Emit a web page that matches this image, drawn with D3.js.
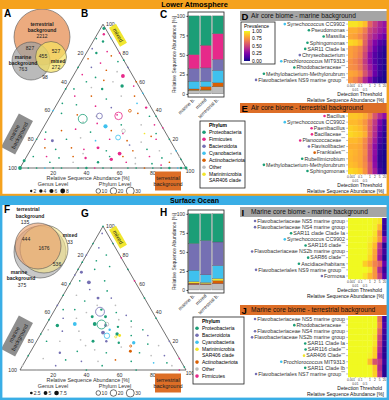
<!DOCTYPE html>
<html>
<head>
<meta charset="utf-8">
<script src="https://cdn.jsdelivr.net/npm/d3@7"></script>
<style>
  body { margin: 0; background: #fff; }
  svg { display: block; font-family: "Liberation Sans", Arial, sans-serif; }
</style>
</head>
<body>
<div id="chart"></div>
<script>
// ---------- data ----------
const groups = ['marine b.', 'mixed', 'terrestrial b.'];
const thresholds = ['0.001', '0.01', '0.1', '0.5', '1', '2', '5', '20'];

const phylumNames = {
  P: 'Proteobacteria', F: 'Firmicutes', B: 'Bacteroidota', C: 'Cyanobacteria',
  A: 'Actinobacteriota', O: 'Other', M: 'Marinimicrobia (SAR406 clade)',
};
const phylumColors = {
  P: '#1b9e77', F: '#e7298a', B: '#7570b3', C: '#3fc1ee',
  A: '#d95f02', O: '#bdbdbd', M: '#f2e52a',
};

// venn counts: [terrestrial only, marine only, mixed only, T+M, T+X, M+X, all three]
const airVenn = [2212, 763, 272, 827, 527, 98, 455];
const oceanVenn = [135, 375, 33, 444, 0, 536, 1676];

// phylum relative abundance [%] for [marine b., mixed, terrestrial b.]
const airAbundance = {
  O: [4.5, 4.7, 9], M: [0.3, 0.3, 0.2], A: [1.5, 4.3, 5], C: [10, 7, 16],
  B: [16, 17, 14], F: [18, 29, 33], P: [49.7, 37.7, 22.8],
};
const oceanAbundance = {
  O: [7, 7, 8], F: [0.5, 0.3, 0.5], A: [1.5, 1, 3.5], M: [2, 1.5, 3],
  C: [15, 10, 17], B: [35, 45, 31], P: [39, 35.2, 37],
};
const airLegend = ['P', 'F', 'B', 'C', 'A', 'O', 'M'];
const oceanLegend = ['P', 'B', 'C', 'M', 'A', 'O', 'F'];

// genus level ternary points: [terrestrial %, mixed %, phylum, abundance]
const airGenus = [
  [2, 97, 'P', 3], [4, 93, 'F', 2], [1, 90, 'P', 1], [6, 88, 'P', 2], [2, 83, 'B', 1], [6, 80, 'P', 2],
  [12, 81, 'F', 1], [16, 78, 'A', 1], [3, 76, 'A', 1], [12, 73, 'F', 1], [22, 74, 'P', 1], [8, 70, 'B', 1],
  [18, 68, 'A', 1], [25, 67, 'O', 1], [30, 64, 'F', 5], [5, 65, 'F', 1], [14, 63, 'P', 1], [20, 61, 'A', 1],
  [10, 60, 'P', 1], [26, 60, 'O', 1], [10, 90, 'C', 1], [20, 80, 'F', 1], [25, 75, 'P', 1], [30, 70, 'B', 1],
  [5, 55, 'P', 1], [15, 56, 'O', 1], [22, 55, 'P', 2], [33, 57, 'P', 4], [40, 57, 'F', 1], [8, 50, 'F', 1],
  [18, 50, 'A', 1], [28, 48, 'P', 1], [36, 50, 'O', 1], [44, 50, 'A', 1], [3, 45, 'P', 1], [12, 44, 'P', 1],
  [24, 43, 'F', 1], [34, 42, 'B', 1], [48, 45, 'C', 1], [55, 42, 'F', 2], [6, 38, 'P', 1], [16, 37, 'A', 1],
  [28, 36, 'O', 1], [40, 37, 'F', 1], [52, 38, 'A', 1], [60, 36, 'P', 1], [37, 29, 'C', 6], [22, 32, 'O', 1],
  [31, 31, 'F', 1], [46, 30, 'P', 1], [58, 30, 'O', 1], [66, 30, 'F', 1], [3, 25, 'P', 1], [12, 26, 'A', 1],
  [20, 27, 'F', 1], [30, 25, 'P', 1], [42, 26, 'A', 1], [50, 24, 'F', 1], [63, 24, 'M', 1], [70, 24, 'P', 1],
  [5, 20, 'F', 1], [10, 19, 'B', 3], [18, 20, 'P', 1], [26, 21, 'O', 1], [36, 19, 'C', 1], [44, 20, 'F', 1],
  [55, 19, 'A', 1], [64, 18, 'O', 1], [72, 20, 'F', 1], [8, 14, 'A', 1], [15, 13, 'P', 1], [24, 14, 'A', 1],
  [32, 13, 'F', 1], [40, 14, 'F', 3], [46, 12, 'P', 1], [55, 10, 'F', 5], [62, 12, 'A', 1], [70, 13, 'P', 1],
  [78, 12, 'O', 1], [4, 8, 'P', 1], [12, 8, 'F', 1], [20, 7, 'P', 1], [28, 8, 'A', 1], [36, 7, 'F', 2],
  [52, 6, 'F', 4], [50, 8, 'P', 1], [58, 8, 'A', 1], [66, 7, 'O', 1], [74, 8, 'F', 1], [82, 7, 'P', 1],
  [86, 10, 'O', 1], [16, 4, 'P', 1], [30, 4, 'O', 1], [45, 4, 'P', 2], [62, 4, 'F', 1], [78, 3, 'P', 1],
  [88, 4, 'A', 1], [0, 0, 'P', 5], [0, 5, 'P', 3], [5, 0, 'P', 1], [10, 0, 'P', 1], [15, 0, 'C', 1],
  [20, 0, 'P', 1], [25, 0, 'P', 1], [30, 0, 'O', 1], [35, 0, 'P', 1], [40, 0, 'P', 2], [45, 0, 'F', 1],
  [50, 0, 'P', 1], [55, 0, 'P', 1], [60, 0, 'O', 1], [65, 0, 'P', 1], [70, 0, 'P', 1], [75, 0, 'A', 1],
  [80, 0, 'P', 1], [85, 0, 'P', 1], [90, 0, 'P', 2], [95, 0, 'C', 1], [97, 0, 'P', 2], [100, 0, 'P', 3],
  [94, 6, 'P', 1], [88, 12, 'C', 1], [80, 20, 'P', 1], [72, 28, 'F', 1], [64, 36, 'P', 1], [56, 44, 'O', 1],
  [48, 52, 'C', 1], [40, 60, 'A', 1], [0, 20, 'P', 1], [0, 40, 'C', 1], [0, 55, 'P', 1], [0, 70, 'P', 1],
  [84, 2, 'F', 1], [68, 3, 'O', 1], [92, 8, 'O', 1], [33, 10, 'O', 1], [58, 16, 'B', 1], [68, 22, 'A', 1],
];
const oceanGenus = [
  [0, 100, 'P', 1], [2, 95, 'B', 1], [0, 88, 'P', 1], [0, 80, 'B', 1], [0, 75, 'P', 1], [0, 70, 'P', 1],
  [0, 66, 'B', 1], [0, 60, 'P', 1], [0, 52, 'P', 1], [0, 45, 'B', 1], [0, 35, 'P', 1], [0, 25, 'P', 1],
  [0, 10, 'P', 1], [0, 3, 'O', 1], [12, 88, 'P', 1], [22, 78, 'F', 1], [30, 70, 'P', 1], [38, 62, 'F', 1],
  [50, 50, 'P', 1], [64, 36, 'P', 1], [80, 20, 'B', 1], [92, 8, 'F', 1], [98, 2, 'P', 1], [10, 0, 'O', 1],
  [40, 0, 'P', 1], [70, 0, 'P', 1], [96, 0, 'F', 1], [5, 85, 'B', 1], [12, 80, 'P', 1], [8, 76, 'P', 1],
  [18, 72, 'P', 1], [3, 68, 'B', 3], [11, 61, 'B', 5], [5, 62, 'P', 1], [20, 62, 'P', 1], [14, 56, 'B', 1],
  [25, 55, 'P', 1], [8, 52, 'O', 1], [30, 50, 'B', 1], [22, 50, 'B', 3], [15, 48, 'P', 1], [35, 45, 'O', 1],
  [5, 42, 'P', 1], [12, 42, 'P', 1], [20, 40, 'O', 1], [28, 42, 'P', 2], [38, 40, 'P', 1], [45, 38, 'B', 1],
  [8, 36, 'B', 1], [16, 36, 'O', 1], [25, 37, 'P', 3], [33, 37, 'P', 3], [42, 35, 'O', 1], [50, 34, 'P', 1],
  [7, 31, 'P', 4], [17, 32, 'C', 5], [29, 32, 'P', 5], [36, 31, 'B', 3], [44, 30, 'P', 2], [52, 30, 'O', 1],
  [60, 28, 'P', 1], [3, 28, 'O', 1], [12, 27, 'B', 1], [22, 27, 'O', 1], [37, 26, 'B', 5], [46, 25, 'P', 4],
  [48, 24, 'M', 3], [55, 24, 'P', 1], [65, 24, 'B', 1], [6, 20, 'P', 1], [14, 20, 'O', 1], [26, 21, 'O', 1],
  [34, 20, 'P', 3], [42, 20, 'B', 2], [50, 19, 'P', 2], [59, 19, 'C', 4], [68, 18, 'P', 1], [75, 17, 'O', 1],
  [18, 12, 'B', 2], [28, 13, 'P', 1], [38, 14, 'O', 1], [46, 12, 'P', 1], [60, 13, 'A', 3], [66, 12, 'P', 1],
  [74, 10, 'O', 1], [82, 10, 'B', 1], [10, 8, 'O', 1], [24, 7, 'P', 1], [34, 6, 'B', 1], [44, 6, 'O', 1],
  [54, 7, 'A', 1], [64, 6, 'P', 1], [78, 5, 'C', 1], [86, 5, 'P', 1], [20, 3, 'B', 1], [48, 3, 'P', 1],
  [90, 3, 'O', 1], [31, 17, 'O', 1], [40, 28, 'C', 2], [53, 16, 'O', 1], [24, 45, 'O', 1], [10, 70, 'P', 1],
];

// core biome heatmaps: taxa, phylum and prevalence per detection threshold
const airMarineTaxa = ['Synechococcus CC9902', 'Pseudomonas', 'Massilia', 'Sphingomonas', 'SAR11 Clade Ia',
  'Chryseobacterium', 'Prochlorococcus MIT9313', 'Rhodobacteraceae***', 'Methylobacterium-Methylorubrum',
  'Flavobacteriales NS9 marine group***'];
const airMarinePhyla = ['C', 'P', 'P', 'P', 'P', 'B', 'C', 'P', 'P', 'B'];
const airMarinePrev = [
  [0.95, 0.95, 0.92, 0.86, 0.6, 0.48, 0.38, 0.32],
  [0.82, 0.82, 0.78, 0.68, 0.5, 0.42, 0.35, 0.3],
  [0.8, 0.78, 0.72, 0.62, 0.45, 0.36, 0.28, 0.2],
  [0.92, 0.9, 0.84, 0.6, 0.4, 0.26, 0.15, 0.1],
  [0.78, 0.75, 0.7, 0.55, 0.36, 0.2, 0.1, 0.05],
  [0.78, 0.74, 0.68, 0.5, 0.3, 0.15, 0.08, 0.04],
  [0.74, 0.7, 0.64, 0.46, 0.3, 0.15, 0.08, 0.04],
  [0.74, 0.72, 0.65, 0.5, 0.35, 0.2, 0.08, 0.03],
  [0.8, 0.78, 0.72, 0.55, 0.4, 0.2, 0.08, 0.03],
  [0.75, 0.7, 0.6, 0.4, 0.25, 0.1, 0.04, 0.02],
];
const airTerrTaxa = ['Bacillus', 'Synechococcus CC9902', 'Paenibacillus', 'Bacillaceae***', 'Planococcaceae***',
  'Flavisolibacter', 'Frankiales***', 'Rubellimicrobium', 'Methylobacterium-Methylorubrum', 'Sphingomonas'];
const airTerrPhyla = ['F', 'C', 'F', 'F', 'F', 'B', 'A', 'P', 'P', 'P'];
const airTerrPrev = [
  [0.88, 0.88, 0.86, 0.82, 0.72, 0.55, 0.4, 0.3],
  [0.85, 0.85, 0.82, 0.75, 0.62, 0.45, 0.25, 0.1],
  [0.9, 0.88, 0.85, 0.78, 0.6, 0.42, 0.2, 0.08],
  [0.92, 0.9, 0.88, 0.82, 0.6, 0.4, 0.15, 0.05],
  [0.85, 0.85, 0.82, 0.72, 0.55, 0.35, 0.12, 0.05],
  [0.82, 0.82, 0.8, 0.7, 0.5, 0.3, 0.08, 0.03],
  [0.85, 0.83, 0.8, 0.72, 0.5, 0.3, 0.06, 0.02],
  [0.84, 0.82, 0.8, 0.7, 0.5, 0.28, 0.05, 0.02],
  [0.86, 0.84, 0.8, 0.72, 0.55, 0.3, 0.06, 0.02],
  [0.92, 0.9, 0.86, 0.75, 0.55, 0.35, 0.1, 0.03],
];
const oceanMarineTaxa = ['Flavobacteriaceae NS5 marine group', 'Flavobacteriaceae NS4 marine group',
  'SAR11 clade Clade Ia', 'Synechococcus CC9902', 'SAR116 clade***', 'Flavobacteriaceae NS2b marine group',
  'SAR86 clade***', 'Ascidiaceihabitans', 'Flavobacteriales NS9 marine group***', 'Formosa'];
const oceanMarinePhyla = ['B', 'B', 'P', 'C', 'P', 'B', 'P', 'P', 'B', 'B'];
const oceanMarinePrev = [
  [1, 1, 1, 1, 1, 0.98, 0.95, 0.1],
  [1, 1, 1, 1, 1, 0.98, 0.85, 0.08],
  [1, 1, 1, 1, 1, 0.95, 0.7, 0.08],
  [1, 1, 1, 1, 0.98, 0.92, 0.75, 0.3],
  [1, 1, 1, 1, 0.95, 0.85, 0.45, 0.05],
  [1, 1, 1, 1, 0.95, 0.8, 0.4, 0.1],
  [1, 1, 1, 1, 0.92, 0.78, 0.35, 0.05],
  [1, 1, 1, 0.9, 0.82, 0.7, 0.6, 0.2],
  [1, 1, 1, 1, 0.95, 0.75, 0.4, 0.08],
  [1, 1, 1, 0.95, 0.85, 0.75, 0.5, 0.15],
];
const oceanTerrTaxa = ['Flavobacteriaceae NS5 marine group', 'Rhodobacteraceae***',
  'Flavobacteriaceae NS4 marine group', 'Flavobacteriaceae NS2b marine group', 'SAR11 Clade Ia',
  'SAR116 clade***', 'SAR406 Clade***', 'Prochlorococcus MIT9313', 'SAR11 Clade Ib',
  'Flavobacteriales NS7 marine group***'];
const oceanTerrPhyla = ['B', 'P', 'B', 'B', 'P', 'P', 'M', 'C', 'P', 'B'];
const oceanTerrPrev = [
  [1, 1, 1, 1, 1, 1, 0.65, 0.1],
  [1, 1, 1, 1, 1, 1, 0.7, 0.15],
  [1, 1, 1, 1, 1, 0.98, 0.6, 0.1],
  [1, 1, 1, 1, 1, 0.95, 0.5, 0.08],
  [1, 1, 1, 1, 1, 0.95, 0.45, 0.08],
  [1, 1, 1, 1, 1, 0.9, 0.4, 0.05],
  [1, 1, 1, 1, 0.98, 0.9, 0.35, 0.05],
  [1, 1, 1, 1, 0.85, 0.55, 0.45, 0.1],
  [1, 1, 1, 1, 1, 0.88, 0.4, 0.05],
  [1, 1, 1, 1, 1, 0.9, 0.45, 0.05],
];

// ---------- setup ----------
const W = 389, H = 400;
const orange = '#f5a21e', darkOrange = '#dd6e27', blue = '#3aaee6', headGray = '#a5a5a5';

const svg = d3.select('#chart').append('svg')
  .attr('width', W).attr('height', H).attr('viewBox', [0, 0, W, H]);

const letter = (x, y, t) => svg.append('text')
  .attr('x', x).attr('y', y).attr('font-size', 10).attr('font-weight', 700).text(t);

// ---------- venn ----------
function drawVenn(circles, labels, opacity) {
  const g = svg.append('g');
  g.selectAll('circle').data(circles).join('circle')
    .attr('cx', (d) => d.cx).attr('cy', (d) => d.cy).attr('r', (d) => d.r)
    .attr('fill', (d) => d.fill).attr('fill-opacity', opacity)
    .attr('stroke', '#555').attr('stroke-width', 0.6);
  g.selectAll('text').data(labels).join('text')
    .attr('x', (d) => d.x).attr('y', (d) => d.y)
    .attr('text-anchor', 'middle').attr('font-size', 5)
    .attr('font-weight', (d) => (d.bold ? 700 : 400))
    .attr('fill', '#222')
    .text((d) => d.t);
}

// ---------- ternary ----------
function drawTernary(cfg) {
  const g = svg.append('g').attr('font-size', 5.2).attr('fill', '#333');
  const [lx, ly] = cfg.origin;
  const side = cfg.side;
  const h = side * Math.sqrt(3) / 2;
  const sx = d3.scaleLinear().domain([0, 100]).range([0, side]);
  const sy = d3.scaleLinear().domain([0, 100]).range([0, h]);
  const pos = (t, x) => [lx + sx(t) + sx(x) / 2, ly - sy(x)];
  const rGenus = d3.scaleSqrt().domain([0, 8]).range([0, 2.4]);
  const rPhylum = d3.scaleSqrt().domain([0, 30]).range([0, 4]);

  g.append('path')
    .attr('d', `M${pos(0, 0)}L${pos(100, 0)}L${pos(0, 100)}Z`)
    .attr('fill', 'none').attr('stroke', '#333').attr('stroke-width', 0.7);

  const ticks = [20, 40, 60, 80, 100];
  g.append('g').selectAll('text').data(ticks).join('text')
    .attr('x', (d) => pos(0, 100 - d)[0] - 3).attr('y', (d) => pos(0, 100 - d)[1] + 2)
    .attr('text-anchor', 'end').text((d) => d);
  g.append('g').selectAll('text').data(ticks).join('text')
    .attr('x', (d) => pos(100 - d, d)[0] + 3).attr('y', (d) => pos(100 - d, d)[1] + 2)
    .text((d) => d);
  g.append('g').selectAll('text').data(ticks).join('text')
    .attr('x', (d) => pos(d, 0)[0] + (d === 100 ? 4 : 0))
    .attr('y', (d) => ly + (d === 100 ? 5 : 6.6))
    .attr('text-anchor', 'middle').text((d) => d);

  g.append('g').selectAll('circle').data(cfg.genus).join('circle')
    .attr('cx', (d) => pos(d[0], d[1])[0]).attr('cy', (d) => pos(d[0], d[1])[1])
    .attr('r', (d) => rGenus(d[3]))
    .attr('fill', (d) => phylumColors[d[2]]);

  const phyla = Object.entries(cfg.abundance).map(([k, v]) => {
    const sum = d3.sum(v);
    return { k, t: (v[2] / sum) * 100, x: (v[1] / sum) * 100, size: d3.mean(v) };
  }).filter((d) => d.size >= 2);
  g.append('g').selectAll('circle').data(phyla).join('circle')
    .attr('cx', (d) => pos(d.t, d.x)[0]).attr('cy', (d) => pos(d.t, d.x)[1])
    .attr('r', (d) => rPhylum(d.size))
    .attr('fill', 'none').attr('stroke-width', 0.8)
    .attr('stroke', (d) => phylumColors[d.k]);

  // corner labels
  const box = (cx, cy, angle, w, bh, fill, lines) => {
    const b = g.append('g').attr('transform', `translate(${cx},${cy}) rotate(${angle})`);
    b.append('rect').attr('x', -w / 2).attr('y', -bh / 2).attr('width', w).attr('height', bh)
      .attr('fill', fill);
    lines.forEach((t, i) => b.append('text')
      .attr('y', (i - (lines.length - 1) / 2) * 6.2 + 1.9)
      .attr('text-anchor', 'middle').attr('font-size', 5.6).attr('fill', '#222').text(t));
  };
  const apex = pos(0, 100);
  box(apex[0] + 15, apex[1] + 11, 60, 22, 8, '#f1e62f', ['mixed']);
  box(lx - 3, ly - 34, -62, 38, 16, '#8e8e8e', ['marine', 'background']);
  box(lx + 148, ly + 13, 0, 26, 19, darkOrange, ['terrestrial', 'background']);

  // size legend
  g.append('text').attr('x', lx + 68).attr('y', ly + 12.4).attr('text-anchor', 'middle')
    .attr('font-size', 5.4).text('Relative Sequence Abundance [%]');
  g.append('text').attr('x', lx + 33).attr('y', ly + 18.2).attr('text-anchor', 'middle')
    .attr('font-size', 5.4).text('Genus Level');
  g.append('text').attr('x', lx + 95).attr('y', ly + 18.2).attr('text-anchor', 'middle')
    .attr('font-size', 5.4).text('Phylum Level');

  const legendRow = (values, x0, rScale, hollow) => {
    let x = x0;
    values.forEach((v) => {
      const r = rScale(v);
      g.append('circle').attr('cx', x + r).attr('cy', ly + 23)
        .attr('r', r).attr('fill', hollow ? 'none' : '#111')
        .attr('stroke', hollow ? '#111' : 'none').attr('stroke-width', 0.6);
      const t = g.append('text').attr('x', x + 2 * r + 1).attr('y', ly + 25)
        .attr('font-size', 5).text(v);
      x += 2 * r + 1 + t.node().getComputedTextLength() + 3;
    });
  };
  legendRow(cfg.genusSizes, lx + 10, rGenus, false);
  legendRow(cfg.phylumSizes, lx + 76, rPhylum, true);
}

// ---------- stacked bars ----------
function drawBars(cfg) {
  const g = svg.append('g').attr('font-size', 5);
  const { x0, x1, y0, y1 } = cfg.frame;
  const keys = Object.keys(cfg.abundance);
  const x = d3.scaleBand().domain(groups).range([x0, x1]).paddingInner(0.1).paddingOuter(0.06);
  const y = d3.scaleLinear().domain([-4, 105]).range([y1, y0]);

  const rows = groups.map((grp, i) => {
    const row = { group: grp };
    keys.forEach((k) => { row[k] = cfg.abundance[k][i]; });
    return row;
  });
  const series = d3.stack().keys(keys)(rows);

  g.append('g').selectAll('g').data(series).join('g')
    .attr('fill', (s) => phylumColors[s.key])
    .selectAll('rect').data((s) => s).join('rect')
    .attr('x', (d) => x(d.data.group)).attr('width', x.bandwidth())
    .attr('y', (d) => y(d[1])).attr('height', (d) => y(d[0]) - y(d[1]))
    .attr('stroke', '#444').attr('stroke-width', 0.25);

  g.append('rect').attr('x', x0).attr('y', y0).attr('width', x1 - x0).attr('height', y1 - y0)
    .attr('fill', 'none').attr('stroke', '#222').attr('stroke-width', 0.8);

  const axis = g.append('g').attr('transform', `translate(${x0},0)`)
    .call(d3.axisLeft(y).tickValues([0, 25, 50, 75, 100]).tickSize(1.5).tickPadding(1.5));
  axis.select('.domain').remove();
  axis.selectAll('text').attr('font-size', 5).attr('fill', '#333');
  axis.selectAll('line').attr('stroke', '#333');

  g.append('text')
    .attr('transform', `translate(${x0 - 12},${(y0 + y1) / 2}) rotate(-90)`)
    .attr('text-anchor', 'middle').attr('font-size', 5).attr('fill', '#333')
    .text('Relative Sequence Abundance [%]');

  g.append('g').selectAll('text').data(groups).join('text')
    .attr('transform', (d) => `translate(${x(d) + x.bandwidth() / 2 + 1},${y1 + 3}) rotate(-45)`)
    .attr('text-anchor', 'end').attr('font-size', 5).attr('fill', '#333').text((d) => d);

  // phylum legend
  const lg = g.append('g').attr('transform', `translate(${cfg.legend.x},${cfg.legend.y})`);
  lg.append('rect').attr('width', cfg.legend.w).attr('height', cfg.legend.h)
    .attr('fill', '#fff').attr('stroke', '#222').attr('stroke-width', 0.8);
  lg.append('text').attr('x', 9).attr('y', 6).attr('font-weight', 700).attr('font-size', 5)
    .text('Phylum');
  let yy = 13;
  cfg.legendOrder.forEach((k) => {
    lg.append('circle').attr('cx', 4).attr('cy', yy - 1.7).attr('r', 1.8).attr('fill', phylumColors[k]);
    if (k === 'M') {
      lg.append('text').attr('x', 9).attr('y', yy).attr('font-size', 5).text('Marinimicrobia');
      yy += 5.8;
      lg.append('text').attr('x', 9).attr('y', yy).attr('font-size', 5).text('SAR406 clade');
    } else {
      lg.append('text').attr('x', 9).attr('y', yy).attr('font-size', 5).text(phylumNames[k]);
    }
    yy += 7;
  });
}

// ---------- heatmaps ----------
function drawHeatmap(cfg) {
  const g = svg.append('g');
  g.append('rect').attr('x', 240).attr('y', cfg.headerY).attr('width', 148).attr('height', 10)
    .attr('fill', cfg.headerColor);
  g.append('text').attr('x', 241.5).attr('y', cfg.headerY + 8.5).attr('font-size', 9.5)
    .attr('font-weight', 700).text(cfg.letter);
  g.append('text').attr('x', 251).attr('y', cfg.headerY + 7.4).attr('font-size', 6.6)
    .attr('fill', '#111').text(cfg.title);

  const { x0, x1, y0, y1 } = cfg.box;
  const x = d3.scaleBand().domain(thresholds).range([x0, x1]);
  const y = d3.scaleBand().domain(d3.range(cfg.taxa.length)).range([y0, y1]);
  const color = (v) => d3.interpolatePlasma(v);

  g.append('g').selectAll('g').data(cfg.prev).join('g')
    .selectAll('rect').data((row, i) => row.map((v, j) => ({ v, i, j }))).join('rect')
    .attr('x', (d) => x(thresholds[d.j])).attr('y', (d) => y(d.i))
    .attr('width', x.bandwidth() + 0.3).attr('height', y.bandwidth() + 0.3)
    .attr('fill', (d) => color(d.v));

  cfg.taxa.forEach((name, i) => {
    const cy = y(i) + y.bandwidth() / 2;
    g.append('line').attr('x1', x0 - 1.8).attr('x2', x0).attr('y1', cy).attr('y2', cy)
      .attr('stroke', '#555').attr('stroke-width', 0.4);
    const t = g.append('text').attr('x', x0 - 3).attr('y', cy + 1.8)
      .attr('text-anchor', 'end').attr('font-size', 5.3).attr('fill', '#333');
    const star = name.endsWith('***');
    t.append('tspan').text(star ? name.slice(0, -3) : name);
    if (star) t.append('tspan').attr('font-size', 3.2).attr('dy', -1.8).text('***');
    const bx = t.node().getBBox().x;
    g.append('circle').attr('cx', bx - 2.2).attr('cy', cy).attr('r', 1.3)
      .attr('fill', phylumColors[cfg.phyla[i]]);
  });

  const tg = g.append('g').attr('font-size', 3.2).attr('fill', '#333').attr('text-anchor', 'middle');
  thresholds.forEach((d, j) => {
    const cx = x(d) + x.bandwidth() / 2;
    const second = j === 1 || j === 3;
    tg.append('line').attr('x1', cx).attr('x2', cx).attr('y1', y1).attr('y2', y1 + 1.2)
      .attr('stroke', '#555').attr('stroke-width', 0.3);
    tg.append('text').attr('x', cx + (j === 0 ? 0.6 : 0))
      .attr('y', y1 + (second ? 7.6 : 4.1)).text(d);
  });
  g.append('text').attr('x', 382).attr('y', y1 + 13).attr('text-anchor', 'end')
    .attr('font-size', 5).attr('fill', '#111').text('Detection Threshold');
  g.append('text').attr('x', 384).attr('y', y1 + 19).attr('text-anchor', 'end')
    .attr('font-size', 5).attr('fill', '#111').text('Relative Sequence Abundance [%]');

  if (cfg.legend) {
    const lg = g.append('g').attr('transform', 'translate(241,22)');
    lg.append('rect').attr('width', 34).attr('height', 42).attr('fill', '#fff')
      .attr('stroke', '#222').attr('stroke-width', 0.8);
    lg.append('text').attr('x', 3).attr('y', 6).attr('font-size', 5).text('Prevalence');
    const grad = svg.append('defs').append('linearGradient').attr('id', 'prevGrad')
      .attr('x1', 0).attr('x2', 0).attr('y1', 1).attr('y2', 0);
    d3.range(0, 1.01, 0.1).forEach((s) => grad.append('stop')
      .attr('offset', s).attr('stop-color', color(s)));
    const ly = d3.scaleLinear().domain([0, 1]).range([39, 9]);
    lg.append('rect').attr('x', 3).attr('y', 9).attr('width', 6).attr('height', 30)
      .attr('fill', 'url(#prevGrad)');
    [0, 0.25, 0.5, 0.75, 1].forEach((v) => {
      lg.append('text').attr('x', 11).attr('y', ly(v) + 1.8).attr('font-size', 5)
        .text(v.toFixed(2));
    });
  }
}

// ---------- compose ----------
// panel A
letter(4, 17, 'A');
drawVenn([
  { cx: 42, cy: 37, r: 28, fill: '#e58a4e' },
  { cx: 31, cy: 61, r: 19, fill: '#a0a0a0' },
  { cx: 51, cy: 57, r: 15.5, fill: '#f5e060' },
], [
  { x: 42, y: 26, t: 'terrestrial', bold: true }, { x: 42, y: 32, t: 'background', bold: true },
  { x: 42, y: 38, t: airVenn[0] }, { x: 30, y: 50, t: airVenn[3] }, { x: 56, y: 53, t: airVenn[4] },
  { x: 43, y: 58, t: airVenn[6] }, { x: 23, y: 59, t: 'marine', bold: true },
  { x: 23, y: 65, t: 'background', bold: true }, { x: 23, y: 71, t: airVenn[1] },
  { x: 58, y: 63, t: 'mixed', bold: true }, { x: 56, y: 69, t: airVenn[2] }, { x: 45, y: 79, t: airVenn[5] },
], 0.72);

// panel F
letter(4, 213, 'F');
drawVenn([
  { cx: 40, cy: 252, r: 26, fill: '#a8a8a8' },
  { cx: 44, cy: 249, r: 24, fill: '#f3e48a' },
  { cx: 38, cy: 246, r: 23, fill: '#ec9f6a' },
], [
  { x: 28, y: 211, t: 'terrestrial', bold: true }, { x: 30, y: 217.5, t: 'background', bold: true },
  { x: 25, y: 224, t: oceanVenn[0] }, { x: 70, y: 237, t: 'mixed', bold: true },
  { x: 70, y: 243.5, t: oceanVenn[2] }, { x: 26, y: 241, t: oceanVenn[3] },
  { x: 44, y: 250, t: oceanVenn[6] }, { x: 57, y: 266, t: oceanVenn[5] },
  { x: 19, y: 274, t: 'marine', bold: true }, { x: 21, y: 280, t: 'background', bold: true },
  { x: 22, y: 286.5, t: oceanVenn[1] },
], 0.62);

letter(81, 17, 'B');
drawTernary({ origin: [20, 168], side: 166, genus: airGenus, abundance: airAbundance,
  genusSizes: [2, 4, 6, 8], phylumSizes: [10, 20, 30] });
letter(81, 217, 'G');
drawTernary({ origin: [20, 370], side: 166, genus: oceanGenus, abundance: oceanAbundance,
  genusSizes: [2.5, 5, 7.5], phylumSizes: [10, 20, 30] });

letter(160, 18, 'C');
drawBars({ frame: { x0: 188, x1: 224, y0: 12, y1: 97 }, abundance: airAbundance,
  legend: { x: 200, y: 121, w: 45, h: 67 }, legendOrder: airLegend });
letter(160, 216, 'H');
drawBars({ frame: { x0: 188, x1: 224, y0: 210, y1: 293 }, abundance: oceanAbundance,
  legend: { x: 193, y: 317, w: 51, h: 67 }, legendOrder: oceanLegend });

drawHeatmap({ letter: 'D', title: 'Air core biome - marine background', headerY: 11,
  headerColor: headGray, box: { x0: 348, x1: 387, y0: 21, y1: 83 },
  taxa: airMarineTaxa, phyla: airMarinePhyla, prev: airMarinePrev, legend: true });
drawHeatmap({ letter: 'E', title: 'Air core biome - terrestrial background', headerY: 103,
  headerColor: darkOrange, box: { x0: 348, x1: 387, y0: 113, y1: 174 },
  taxa: airTerrTaxa, phyla: airTerrPhyla, prev: airTerrPrev });
drawHeatmap({ letter: 'I', title: 'Marine core biome - marine background', headerY: 207,
  headerColor: headGray, box: { x0: 348, x1: 387, y0: 218, y1: 279 },
  taxa: oceanMarineTaxa, phyla: oceanMarinePhyla, prev: oceanMarinePrev });
drawHeatmap({ letter: 'J', title: 'Marine core biome - terrestrial background', headerY: 305,
  headerColor: darkOrange, box: { x0: 348, x1: 387, y0: 316, y1: 377 },
  taxa: oceanTerrTaxa, phyla: oceanTerrPhyla, prev: oceanTerrPrev });

// frames and section headers
svg.append('rect').attr('x', 1.2).attr('y', 1).attr('width', W - 2.4).attr('height', 194)
  .attr('fill', 'none').attr('stroke', orange).attr('stroke-width', 2.4);
svg.append('rect').attr('x', 0).attr('y', 0).attr('width', W).attr('height', 9).attr('fill', orange);
svg.append('text').attr('x', W / 2).attr('y', 7.3).attr('text-anchor', 'middle')
  .attr('font-size', 7.4).attr('font-weight', 700).text('Lower Atmosphere');

svg.append('rect').attr('x', 1.2).attr('y', 197).attr('width', W - 2.4).attr('height', 201.8)
  .attr('fill', 'none').attr('stroke', blue).attr('stroke-width', 2.4);
svg.append('rect').attr('x', 0).attr('y', 196).attr('width', W).attr('height', 9).attr('fill', blue);
svg.append('text').attr('x', W / 2).attr('y', 203.3).attr('text-anchor', 'middle')
  .attr('font-size', 7).attr('font-weight', 700).text('Surface Ocean');
</script>
</body>
</html>
